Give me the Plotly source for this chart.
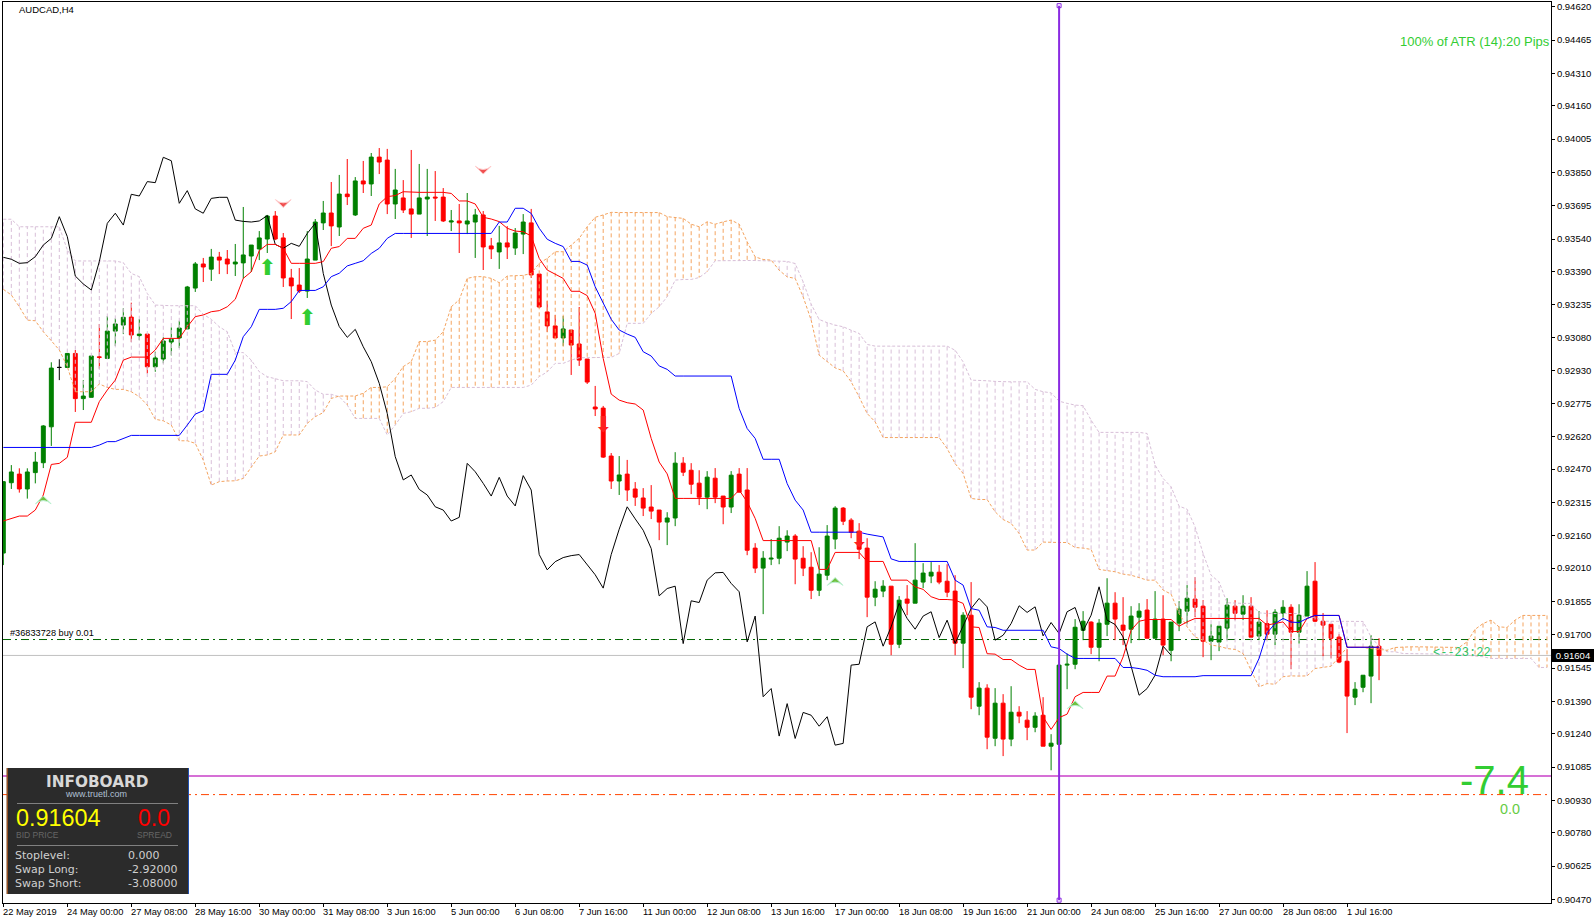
import numpy as np
import plotly.graph_objects as go

# all prices below are in points (0.00001), one value per H4 bar
opens = [92080,92407,92447,92378,92454,92500,92667,92943,92943,93008,
92798,92804,92992,92985,93112,93140,93177,93091,93098,92946,
92982,93061,93080,93122,93312,93424,93400,93456,93447,93424,
93429,93461,93494,93540,93647,93545,93359,93326,93298,93442,
93615,93661,93596,93749,93652,93810,93796,93921,93907,93703,
93731,93680,93656,93726,93735,93735,93619,93624,93610,93619,
93652,93508,93480,93522,93498,93563,93615,93377,93201,93136,
93080,93117,93052,92982,92759,92754,92531,92415,92447,92378,
92336,92294,92280,92224,92243,92498,92465,92405,92340,92428,
92345,92294,92447,92373,92103,92010,92052,92056,92131,92159,
92056,92014,91907,91977,92145,92289,92233,92182,92103,91875,
91903,91926,91656,91866,91847,91945,91973,91991,91949,91903,
91661,91791,91368,91452,91219,91382,91215,91340,91303,91270,
91326,91182,91191,91559,91563,91721,91759,91642,91749,91847,
91745,91726,91782,91815,91684,91773,91628,91754,91810,91866,
91833,91670,91666,91731,91833,91796,91833,91694,91752,91703,
91799,91828,91712,91787,91949,91763,91749,91689,91577,91410,
91456,91508,91647]
closes = [92412,92457,92378,92457,92503,92671,92940,92943,93008,92798,
92810,92996,92990,93112,93145,93176,93094,93098,92946,92987,
93066,93074,93126,93317,93424,93410,93456,93442,93424,93433,
93466,93512,93545,93647,93540,93359,93322,93298,93447,93619,
93661,93601,93749,93737,93810,93796,93921,93898,93703,93768,
93675,93656,93731,93735,93731,93624,93624,93615,93624,93652,
93503,93494,93522,93503,93568,93619,93373,93224,93136,93080,
93122,93047,92977,92875,92750,92526,92415,92443,92373,92340,
92289,92275,92224,92243,92498,92456,92400,92340,92433,92340,
92294,92442,92363,92093,92010,92056,92056,92149,92159,92052,
92010,91907,91982,92159,92289,92228,92177,92098,91875,91912,
91926,91656,91861,91847,91954,91987,91991,91945,91898,91661,
91791,91410,91452,91224,91382,91215,91340,91322,91270,91322,
91182,91196,91559,91563,91735,91763,91642,91754,91847,91773,
91721,91787,91810,91684,91773,91652,91759,91819,91870,91828,
91670,91694,91740,91838,91800,91833,91689,91759,91703,91805,
91828,91712,91791,91926,91763,91745,91684,91573,91415,91447,
91512,91647,91604]
highs = [92412,92489,92474,92474,92550,92675,92967,92981,93008,93024,
92884,92996,93145,93182,93171,93218,93244,93168,93098,93016,
93083,93129,93160,93322,93433,93452,93494,93480,93489,93517,
93689,93512,93577,93652,93670,93568,93401,93405,93577,93633,
93717,93805,93838,93912,93828,93903,93940,93963,93959,93866,
93814,93954,93889,93866,93856,93777,93675,93703,93754,93680,
93670,93545,93601,93600,93591,93656,93680,93377,93252,93187,
93182,93117,93224,92982,92857,92764,92545,92531,92513,92410,
92382,92396,92279,92270,92549,92526,92498,92465,92461,92475,
92345,92461,92475,92475,92126,92089,92145,92205,92186,92168,
92112,92084,92107,92210,92298,92294,92242,92219,92149,91949,
91954,91926,91880,91931,92126,92033,92038,92024,92028,91977,
91805,91945,91480,91470,91452,91424,91461,91368,91345,91340,
91410,91238,91582,91613,91773,91810,91763,91773,91963,91898,
91875,91833,91847,91866,91903,91884,91759,91856,91931,91968,
91861,91749,91740,91870,91861,91884,91875,91810,91814,91819,
91861,91842,91842,91996,92038,91801,91749,91703,91633,91480,
91512,91698,91684]
lows = [92024,92378,92361,92333,92404,92475,92578,92884,92943,92736,
92745,92804,92937,92985,93043,93098,93061,93070,92915,92923,
92962,92999,93033,93122,93294,93340,93345,93377,93377,93368,
93356,93387,93442,93475,93535,93317,93168,93289,93266,93442,
93582,93507,93554,93698,93647,93754,93740,93842,93656,93633,
93661,93545,93656,93554,93624,93619,93577,93475,93563,93452,
93396,93447,93401,93447,93466,93470,93359,93219,93108,93080,
93043,92908,92950,92866,92717,92522,92378,92350,92322,92299,
92252,92238,92140,92117,92205,92438,92354,92303,92284,92312,
92214,92266,92363,92070,91987,91796,92024,92028,92089,91935,
91973,91866,91880,91954,92098,92210,92149,92052,91782,91833,
91875,91605,91638,91791,91847,91917,91940,91935,91875,91605,
91545,91354,91326,91168,91182,91136,91182,91289,91210,91247,
91182,91070,91191,91447,91540,91675,91610,91577,91694,91675,
91652,91661,91675,91684,91684,91605,91577,91717,91749,91782,
91596,91582,91624,91675,91768,91768,91689,91675,91675,91652,
91768,91540,91659,91787,91759,91600,91591,91568,91243,91373,
91433,91382,91489]

tenkan = [92229,92241,92252,92252,92280,92350,92492,92497,92525,92688,
92688,92688,92784,92838,92884,92977,92991,92991,92991,93024,
93078,93078,93078,93132,93179,93187,93202,93207,93225,93260,
93357,93388,93486,93515,93515,93497,93427,93427,93427,93427,
93435,93497,93505,93543,93543,93590,93605,93703,93737,93742,
93760,93757,93757,93757,93757,93757,93752,93717,93717,93703,
93641,93633,93621,93590,93577,93574,93554,93450,93396,93377,
93357,93297,93297,93277,93195,92985,92819,92791,92779,92773,
92745,92613,92503,92448,92334,92334,92334,92334,92334,92334,
92334,92334,92373,92318,92241,92138,92138,92138,92138,92138,
92138,92138,92004,92004,92083,92083,92083,92083,92041,92041,
92041,91954,91954,91954,91923,91911,91877,91864,91864,91861,
91846,91737,91734,91612,91610,91585,91585,91559,91539,91539,
91318,91260,91315,91331,91412,91432,91432,91432,91508,91508,
91597,91721,91763,91771,91771,91771,91771,91740,91760,91776,
91776,91776,91776,91776,91776,91776,91776,91776,91745,91752,
91760,91715,91715,91776,91790,91790,91790,91790,91642,91642,
91642,91642,91642]
kijun = [92571,92571,92571,92571,92571,92571,92571,92571,92571,92571,
92571,92571,92582,92598,92598,92613,92627,92627,92627,92627,
92627,92627,92627,92675,92726,92742,92911,92911,92911,92977,
93086,93132,93213,93213,93213,93218,93249,93301,93301,93301,
93318,93365,93381,93415,93427,93439,93473,93497,93543,93566,
93566,93566,93566,93566,93566,93566,93566,93566,93566,93566,
93566,93566,93619,93619,93683,93683,93659,93590,93539,93520,
93505,93436,93436,93419,93318,93241,93167,93117,93098,93083,
93016,92996,92950,92934,92903,92903,92903,92903,92903,92903,
92903,92903,92752,92659,92613,92516,92516,92516,92403,92326,
92280,92177,92177,92177,92177,92177,92177,92177,92168,92163,
92155,92053,92041,92041,92041,92041,92041,92041,92041,91954,
91931,91822,91814,91737,91734,91721,91721,91721,91721,91721,
91721,91644,91636,91610,91590,91590,91590,91590,91590,91590,
91548,91548,91543,91535,91512,91505,91505,91505,91505,91505,
91510,91510,91510,91510,91510,91510,91510,91590,91709,91752,
91776,91759,91757,91776,91790,91790,91790,91790,91642,91642,
91642,91642,91642]
chikou = [93455,93446,93427,93430,93458,93512,93543,93644,93551,93368,
93331,93303,93435,93613,93660,93605,93748,93740,93807,93802,
93920,93904,93706,93765,93680,93660,93729,93734,93734,93628,
93622,93619,93624,93649,93515,93497,93520,93506,93566,93613,
93380,93233,93133,93083,93120,93039,92970,92869,92729,92528,
92420,92443,92376,92350,92295,92280,92229,92246,92497,92458,
92404,92345,92432,92345,92299,92440,92373,92073,92002,92040,
92059,92068,92073,92026,91979,91917,92073,92191,92295,92239,
92186,92101,91881,91915,91926,91659,91858,91850,91954,91988,
91990,91939,91900,91667,91787,91412,91450,91229,91380,91218,
91339,91326,91275,91319,91187,91195,91559,91563,91737,91760,
91647,91737,91846,91776,91726,91787,91807,91687,91768,91660,
91745,91822,91869,91830,91675,91698,91752,91835,91804,91830,
91695,91757,91706,91807,91827,91718,91791,91923,91768,91748,
91690,91559,91419,91450,91512,91647,91605]
# the cloud runs 26 bars past the last candle
span_a = [93306,93280,93225,93163,93160,93109,93067,93024,92947,92830,
92830,92830,92866,92850,92841,92841,92830,92807,92768,92702,
92695,92675,92602,92602,92590,92512,92396,92412,92415,92416,
92427,92481,92531,92536,92551,92629,92629,92629,92683,92714,
92733,92799,92810,92810,92810,92823,92850,92850,92853,92892,
92947,92970,93063,93063,93070,93109,93225,93257,93357,93365,
93365,93357,93337,93368,93368,93371,93380,93427,93450,93481,
93481,93512,93543,93597,93641,93652,93664,93663,93663,93663,
93663,93663,93663,93644,93641,93636,93609,93597,93620,93609,
93620,93628,93609,93527,93457,93445,93442,93395,93364,93357,
93271,93163,93000,92969,92941,92927,92876,92806,92729,92690,
92617,92617,92617,92617,92617,92617,92617,92617,92566,92496,
92450,92334,92329,92329,92272,92236,92218,92171,92094,92094,
92131,92129,92129,92129,92106,92103,92097,92004,91997,91993,
91982,91977,91966,91954,91954,91908,91889,91799,91737,91690,
91675,91652,91647,91636,91632,91613,91535,91458,91473,91470,
91505,91509,91508,91509,91543,91548,91554,91597,91641,91641,
91641,91636,91632,91628,91641,91644,91644,91644,91644,91644,
91641,91641,91641,91667,91725,91752,91768,91737,91734,91768,
91790,91790,91790,91790]
span_b = [93632,93632,93597,93597,93597,93597,93597,93597,93489,93438,
93438,93438,93438,93438,93438,93430,93380,93365,93287,93233,
93230,93230,93230,93230,93230,93190,93167,93132,93109,93012,
93012,92977,92923,92900,92892,92881,92881,92881,92877,92838,
92818,92818,92807,92768,92706,92706,92706,92706,92629,92675,
92729,92737,92753,92753,92757,92784,92850,92850,92850,92850,
92850,92850,92850,92850,92850,92850,92861,92900,92922,92962,
92962,92977,92988,92988,92988,92990,92990,93008,93148,93148,
93148,93194,93225,93272,93349,93352,93352,93361,93388,93439,
93440,93440,93440,93440,93440,93440,93440,93437,93436,93426,
93341,93237,93166,93151,93140,93132,93116,93101,93050,93042,
93042,93042,93042,93042,93042,93042,93042,93042,93042,93023,
92969,92884,92884,92881,92878,92876,92876,92876,92876,92841,
92830,92825,92786,92776,92768,92765,92698,92641,92641,92641,
92641,92641,92641,92636,92489,92427,92388,92298,92284,92202,
92078,91977,91946,91849,91846,91846,91846,91802,91799,91799,
91799,91799,91799,91776,91783,91763,91763,91763,91763,91763,
91762,91690,91647,91621,91621,91613,91613,91613,91613,91613,
91610,91605,91605,91605,91601,91598,91590,91590,91590,91590,
91590,91590,91548,91548]

tick_labels = ['22 May 2019','24 May 00:00','27 May 08:00','28 May 16:00','30 May 00:00','31 May 08:00',
               '3 Jun 16:00','5 Jun 00:00','6 Jun 08:00','7 Jun 16:00','11 Jun 00:00','12 Jun 08:00',
               '13 Jun 16:00','17 Jun 00:00','18 Jun 08:00','19 Jun 16:00','21 Jun 00:00','24 Jun 08:00',
               '25 Jun 16:00','27 Jun 00:00','28 Jun 08:00','1 Jul 16:00']
price_ticks = [0.94620,0.94465,0.94310,0.94160,0.94005,0.93850,0.93695,0.93540,0.93390,0.93235,
               0.93080,0.92930,0.92775,0.92620,0.92470,0.92315,0.92160,0.92010,0.91855,0.91700,
               0.91545,0.91390,0.91240,0.91085,0.90930,0.90780,0.90625,0.90470]

# signal arrows: bar index, price in points
up_arrows = ([33, 38], [93399, 93167])
down_arrows = ([75, 107], [92670, 92132])
sell_marks = ([35, 60], [93687, 93842])
buy_marks = ([5, 104, 134], [92345, 91966, 91393])

bid = 91604
order_line = 91678
target_line = 91043
stop_line = 90957
cursor_bar = 132

W, H = 1596, 923
ML, MR, MT, MB = 3, 45, 2, 20


def pr(v):
    return np.array(v) / 100000


def label(fig, x, y, text, size, color, anchor='left', family='Liberation Sans', **kw):
    # x,y are page pixels, annotations need paper fractions
    fig.add_annotation(xref='paper', yref='paper',
                       x=(x - ML) / (W - ML - MR), y=1 - (y - MT) / (H - MT - MB),
                       text=text, showarrow=False, xanchor=anchor, yanchor='middle',
                       font=dict(size=size, color=color, family=family), borderpad=0, **kw)


def rect(fig, x0, y0, x1, y1, color):
    fig.add_shape(type='rect', xref='paper', yref='paper', layer='above',
                  x0=(x0 - ML) / (W - ML - MR), x1=(x1 - ML) / (W - ML - MR),
                  y0=1 - (y0 - MT) / (H - MT - MB), y1=1 - (y1 - MT) / (H - MT - MB),
                  fillcolor=color, line_width=0)


idx = np.arange(len(opens))
o, h, l, c = pr(opens), pr(highs), pr(lows), pr(closes)
doji = o == c

fig = go.Figure()

fig.add_trace(go.Candlestick(x=idx[~doji], open=o[~doji], high=h[~doji], low=l[~doji], close=c[~doji],
                             increasing=dict(line=dict(color='#008000', width=1), fillcolor='#008000'),
                             decreasing=dict(line=dict(color='#FF0000', width=1), fillcolor='#FF0000'),
                             whiskerwidth=0))
fig.add_trace(go.Candlestick(x=idx[doji], open=o[doji], high=h[doji], low=l[doji], close=c[doji],
                             increasing=dict(line=dict(color='black', width=1), fillcolor='black'),
                             decreasing=dict(line=dict(color='black', width=1), fillcolor='black'),
                             whiskerwidth=0))

# cloud hatching, one dashed stick per bar
a, b = pr(span_a), pr(span_b)
cloud_x = np.arange(len(a))
for color, mask in (('#F4A460', a >= b), ('#D8BFD8', a < b)):
    xs, ys = [], []
    for i in cloud_x[mask]:
        xs += [i, i, None]
        ys += [a[i], b[i], None]
    fig.add_trace(go.Scatter(x=xs, y=ys, mode='lines', line=dict(color=color, width=1, dash='4px,3px')))

fig.add_trace(go.Scatter(x=cloud_x, y=b, mode='lines', line=dict(color='#D8BFD8', width=1, dash='3px,2px')))
fig.add_trace(go.Scatter(x=cloud_x, y=a, mode='lines', line=dict(color='#F4A460', width=1, dash='3px,2px')))

fig.add_trace(go.Scatter(x=idx[:len(chikou)], y=pr(chikou), mode='lines', line=dict(color='black', width=1)))
fig.add_trace(go.Scatter(x=idx, y=pr(tenkan), mode='lines', line=dict(color='#FF0000', width=1)))
fig.add_trace(go.Scatter(x=idx, y=pr(kijun), mode='lines', line=dict(color='#0000FF', width=1)))

fig.add_trace(go.Scatter(x=up_arrows[0], y=pr(up_arrows[1]), mode='text', text=['⬆'] * 2,
                         textfont=dict(size=22, color='#32CD32', family='DejaVu Sans'), textposition='middle center'))
fig.add_trace(go.Scatter(x=down_arrows[0], y=pr(down_arrows[1]), mode='text', text=['⬇'] * 2,
                         textfont=dict(size=22, color='#FF2020', family='DejaVu Sans'), textposition='middle center'))
fig.add_trace(go.Scatter(x=sell_marks[0], y=pr(sell_marks[1]), mode='markers',
                         marker=dict(symbol='arrow-wide', angle=180, size=11, color='#F05050', line=dict(color='#FFC8C8', width=1))))
fig.add_trace(go.Scatter(x=buy_marks[0], y=pr(buy_marks[1]), mode='markers',
                         marker=dict(symbol='arrow-wide', size=11, color='#70C040', line=dict(color='#B8F0D0', width=1))))

fig.add_trace(go.Scatter(x=[cursor_bar, cursor_bar], y=[0.94625, 0.90466], mode='lines+markers',
                         line=dict(color='#8A2BE2', width=2),
                         marker=dict(symbol='square-open', size=4, color='#8A2BE2', line=dict(color='#8A2BE2', width=1))))

fig.add_hline(y=bid / 100000, line=dict(color='#C0C0C0', width=1), layer='below')
fig.add_hline(y=order_line / 100000, line=dict(color='#006400', width=1, dash='8px,4px,2px,4px'), layer='below')
fig.add_hline(y=target_line / 100000, line=dict(color='#D670D6', width=2), layer='below')
fig.add_hline(y=stop_line / 100000, line=dict(color='#FF4500', width=1, dash='8px,4px,2px,4px'), layer='below')

# chart labels
label(fig, 18, 10, 'AUDCAD,H4', 9.5, 'black')
label(fig, 9, 633, '#36833728 buy 0.01', 9.2, 'black')
label(fig, 1551, 41, '100% of ATR (14):20 Pips', 13, '#32CD32', anchor='right')
label(fig, 1432, 653, '&lt;--23:22', 12, '#2FC468', family='Liberation Mono')
label(fig, 1530, 780, '-7.4', 40, '#32CD32', anchor='right')
label(fig, 1510, 809, '0.0', 14.4, '#66CC44', anchor='center')

# infoboard panel
rect(fig, 6.7, 768, 189, 894, '#2B2B2B')
rect(fig, 6.7, 768, 7.7, 894, '#C06020')
rect(fig, 188, 768, 189, 894, '#2050B0')
rect(fig, 17, 803, 178, 804, '#808080')
rect(fig, 17, 845, 178, 846, '#808080')
label(fig, 97.7, 782, '<b>INFOBOARD</b>', 15.3, '#D8D8D8', anchor='center', family='DejaVu Sans')
label(fig, 95.5, 794, 'www.truetl.com', 9, '#B0C0D4', anchor='center')
label(fig, 14.5, 818, '0.91604', 23.4, '#FFFF00')
label(fig, 137, 818, '0.0', 23, '#FF0000')
label(fig, 14.5, 835, 'BID PRICE', 8.5, '#666666')
label(fig, 136, 835, 'SPREAD', 8.5, '#666666')
label(fig, 14, 855, 'Stoplevel:', 11, '#D0D0D0', family='DejaVu Sans')
label(fig, 14, 869, 'Swap Long:', 11, '#D0D0D0', family='DejaVu Sans')
label(fig, 14, 883, 'Swap Short:', 11, '#D0D0D0', family='DejaVu Sans')
label(fig, 127.3, 855, '0.000', 11, '#D0D0D0', family='DejaVu Sans')
label(fig, 127.3, 869, '-2.92000', 11, '#D0D0D0', family='DejaVu Sans')
label(fig, 127.3, 883, '-3.08000', 11, '#D0D0D0', family='DejaVu Sans')

# time labels start at their tick, current price sits in a black box on the scale
tick_bars = list(range(0, 8 * len(tick_labels), 8))
for bar, text in zip(tick_bars, tick_labels):
    label(fig, 2 + 8 * bar, 912, text, 9.3, 'black')
label(fig, 1573, 655.3, f'{bid / 100000:.5f}', 9.5, 'white', anchor='center', bgcolor='black',
      bordercolor='black', borderwidth=1, width=40)

fig.update_layout(width=W, height=H, autosize=False, showlegend=False,
                  margin=dict(l=ML, r=MR, t=MT, b=MB),
                  paper_bgcolor='white', plot_bgcolor='white', boxgap=0.3,
                  font=dict(family='Liberation Sans', color='black'))
fig.update_xaxes(range=[-0.04, 193.5], rangeslider_visible=False, showgrid=False, zeroline=False,
                 tickmode='array', tickvals=tick_bars, showticklabels=False,
                 ticks='outside', ticklen=3, tickcolor='black', tickwidth=1,
                 showline=True, linecolor='black', linewidth=1, mirror=True)
fig.update_yaxes(range=[0.90453, 0.94642], side='right', showgrid=False, zeroline=False,
                 tickmode='array', tickvals=price_ticks, ticktext=[f'{p:.5f}' for p in price_ticks],
                 tickfont=dict(size=9.5, family='Liberation Sans', color='black'),
                 ticks='outside', ticklen=3, tickcolor='black', tickwidth=1,
                 showline=True, linecolor='black', linewidth=1, mirror=True)

fig.write_html("out.html", config={'displayModeBar': False},
               post_script="document.body.style.margin='0'")
